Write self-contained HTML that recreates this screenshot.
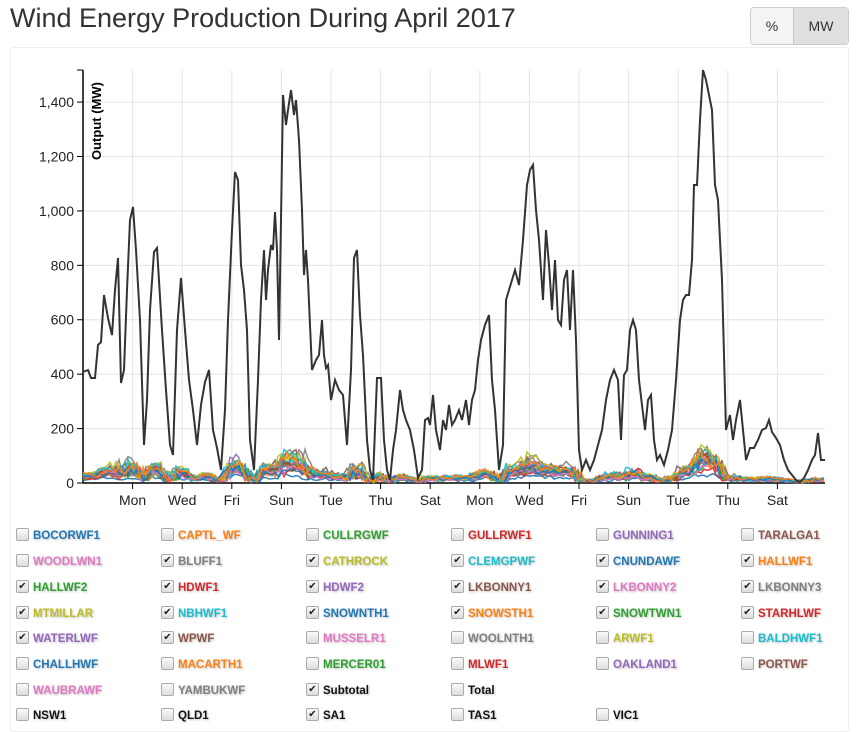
<!DOCTYPE html>
<html><head><meta charset="utf-8"><style>
body{margin:0;background:#fff;font-family:"Liberation Sans",sans-serif;width:862px;height:732px;overflow:hidden;position:relative}
h1{position:absolute;left:10px;top:3px;margin:0;font-weight:normal;font-size:27px;color:#333}
.btns{position:absolute;left:750px;top:7px;width:97px;height:36px;border:1px solid #ccc;border-radius:4px;overflow:hidden;display:flex;font-size:14px;color:#333}
.btns div{display:flex;align-items:center;justify-content:center}
.panel{position:absolute;left:10px;top:47px;width:837px;height:683px;border:1px solid #eee;border-radius:3px}
.lg{position:absolute;font-size:11.5px;font-weight:bold;text-shadow:1px 1px 2px rgba(0,0,0,0.25);white-space:nowrap}
.cb{position:absolute;width:11px;height:11px;border:1px solid #aaa;border-radius:2px;background:linear-gradient(#fafafa,#ddd);font-size:10px;line-height:11px;text-align:center;color:#222}
</style></head><body>
<h1>Wind Energy Production During April 2017</h1>
<div class="btns"><div style="width:42px;background:#f4f4f4;border-right:1px solid #ccc">%</div><div style="flex:1;background:#e0e0e0">MW</div></div>
<div class="panel"></div>
<svg id="s" width="862" height="732" style="position:absolute;left:0;top:0"></svg>
<div id="leg"></div>
<script>
var s=document.getElementById('s'),h='';
var days=['Mon','Wed','Fri','Sun','Tue','Thu','Sat','Mon','Wed','Fri','Sun','Tue','Thu','Sat'];
for(var i=0;i<14;i++){var x=83+2*24.8+i*49.6;h+='<line x1="'+x+'" y1="70" x2="'+x+'" y2="483" stroke="#e3e3e3"/><line x1="'+x+'" y1="483" x2="'+x+'" y2="489" stroke="#000"/><text x="'+x+'" y="505" font-size="14" text-anchor="middle" fill="#222">'+days[i]+'</text>';}
for(var v=0;v<=1400;v+=200){var y=483-v*0.2721;h+='<line x1="83" y1="'+y+'" x2="825" y2="'+y+'" stroke="#e3e3e3"/><line x1="77" y1="'+y+'" x2="83" y2="'+y+'" stroke="#000"/><text x="74" y="'+(y+5)+'" font-size="14" text-anchor="end" fill="#222">'+(v>=1000?(Math.floor(v/1000)+','+String(v%1000).padStart(3,'0')):v)+'</text>';}
h+='<line x1="77" y1="70" x2="83" y2="70" stroke="#000"/><line x1="83" y1="70" x2="83" y2="483" stroke="#000" stroke-width="1.5"/><line x1="83" y1="483" x2="825" y2="483" stroke="#000" stroke-width="1.5"/>';
h+='<text transform="translate(101,160) rotate(-90)" font-size="13" font-weight="bold" fill="#000">Output (MW)</text>';
var p=[83,372,88,370,91,378,95,378,98,345,101,342,104,295,108,318,112,335,115,290,118,258,121,383,124,370,127,290,130,220,133,207,136,250,140,320,144,445,147,400,150,310,154,252,157,248,162,330,166,390,170,445,173,455,177,330,181,278,185,330,189,380,193,410,197,445,201,405,205,382,209,370,213,430,217,448,221,470,225,410,228,320,232,230,235,172,238,180,241,265,244,290,247,330,250,440,254,470,258,380,261,300,264,250,266,300,268,270,271,245,273,250,275,212,277,250,279,340,281,220,283,95,286,125,288,110,291,90,294,115,296,100,299,140,302,210,304,275,306,250,308,280,312,370,316,360,319,355,322,320,324,355,326,368,328,365,331,400,335,380,339,390,343,395,347,445,351,370,354,258,357,250,360,315,363,355,367,440,370,470,373,480,377,378,381,378,384,440,387,470,390,480,393,450,396,430,400,390,403,410,406,420,410,430,414,450,418,478,422,470,425,420,428,418,430,425,433,395,436,430,440,450,443,420,446,430,449,405,452,425,455,420,459,410,462,420,466,400,469,425,472,400,475,390,478,360,481,340,485,325,489,315,492,380,495,410,499,470,503,445,506,300,509,290,512,280,515,270,519,285,523,240,527,185,530,170,533,165,536,210,539,240,543,300,546,230,549,265,552,310,555,260,558,320,561,325,564,280,567,270,570,330,573,270,576,340,579,450,582,470,586,460,590,470,594,460,598,445,602,430,606,400,610,380,614,370,618,380,621,440,624,375,627,370,630,330,633,320,636,330,639,380,642,405,645,430,648,400,651,395,654,440,657,460,660,455,664,465,668,450,672,430,676,380,680,320,683,300,686,295,689,295,692,260,694,185,697,185,700,120,703,70,706,80,709,95,712,110,715,185,718,200,722,280,726,430,730,415,733,440,736,420,740,400,743,430,746,460,750,448,754,448,758,440,762,430,766,428,769,420,772,432,776,438,780,445,784,460,788,470,792,475,796,480,800,482,804,478,808,470,812,460,815,455,818,433,821,460,825,460];
function by(x){for(var i=0;i<p.length-2;i+=2){if(x<=p[i+2]){var t=(x-p[i])/(p[i+2]-p[i]);return p[i+1]+t*(p[i+3]-p[i+1]);}}return p[p.length-1];}
var cols=['#1f77b4','#ff7f0e','#2ca02c','#d62728','#9467bd','#8c564b','#e377c2','#7f7f7f','#bcbd22','#17becf'];
var seed=7;function r(){seed=(seed*16807)%2147483647;return seed/2147483647;}
for(var k=0;k<22;k++){var f=0.015+r()*0.06,pts=[],n=1;for(var x=83;x<=825;x+=3){n=0.8*n+0.2*(0.3+r()*1.6);var d=483-by(x-6+r()*12);var val=d*f*n+r()*3;pts.push(x+','+(483-Math.min(val,46)).toFixed(1));}
h+='<polyline points="'+pts.join(' ')+'" fill="none" stroke="'+cols[k%10]+'" stroke-width="1.5" opacity="0.9"/>';}
var pp=[];for(var i=0;i<p.length;i+=2)pp.push(p[i]+','+p[i+1]);
h+='<polyline points="'+pp.join(' ')+'" fill="none" stroke="#333" stroke-width="2"/>';
s.innerHTML=h;
var names=['BOCORWF1','CAPTL_WF','CULLRGWF','GULLRWF1','GUNNING1','TARALGA1','WOODLWN1','BLUFF1','CATHROCK','CLEMGPWF','CNUNDAWF','HALLWF1','HALLWF2','HDWF1','HDWF2','LKBONNY1','LKBONNY2','LKBONNY3','MTMILLAR','NBHWF1','SNOWNTH1','SNOWSTH1','SNOWTWN1','STARHLWF','WATERLWF','WPWF','MUSSELR1','WOOLNTH1','ARWF1','BALDHWF1','CHALLHWF','MACARTH1','MERCER01','MLWF1','OAKLAND1','PORTWF','WAUBRAWF','YAMBUKWF','Subtotal','Total','','','NSW1','QLD1','SA1','TAS1','VIC1'];
var chk={7:1,8:1,9:1,10:1,11:1,12:1,13:1,14:1,15:1,16:1,17:1,18:1,19:1,20:1,21:1,22:1,23:1,24:1,25:1,38:1,44:1};
var rows=[536,562,588,614,639,665,691,716],L='';
for(var i=0;i<names.length;i++){if(!names[i])continue;var c=i%6,rw=Math.floor(i/6),x=16+c*145,y=rows[rw];var col=i>=38?'#111':cols[i%10];
L+='<div class="cb" style="left:'+x+'px;top:'+(y-8)+'px">'+(chk[i]?'✔':'')+'</div><div class="lg" style="left:'+(x+17)+'px;top:'+(y-6)+'px;color:'+col+'">'+names[i]+'</div>';}
document.getElementById('leg').innerHTML=L;
</script>
</body></html>
